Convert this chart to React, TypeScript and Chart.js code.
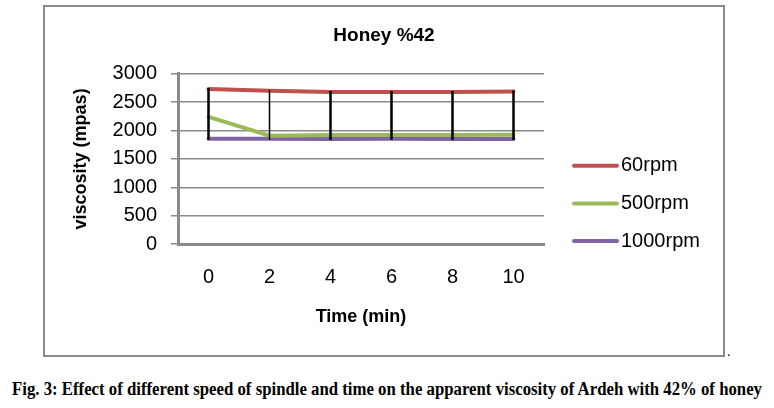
import React, { useEffect, useLayoutEffect, useRef } from "react";
import { Chart, registerables } from "chart.js";

Chart.register(...registerables);

// ---- data ----
const times = ["0", "2", "4", "6", "8", "10"];
const rpm60 = [2730, 2700, 2680, 2680, 2680, 2690];
const rpm500 = [2240, 1910, 1920, 1920, 1920, 1925];
const rpm1000 = [1855, 1855, 1850, 1855, 1850, 1850];
const seriesLabels = ["60rpm", "500rpm", "1000rpm"];
const seriesColors = ["#C0504D", "#9BBB59", "#8064A2"];
const yMin = 0;
const yMax = 3000;
const yStep = 500;
const chartTitle = "Honey %42";
const yTitle = "viscosity (mpas)";
const xTitle = "Time (min)";
const caption =
  "Fig. 3: Effect of different speed of spindle and time on the apparent viscosity of Ardeh with 42% of honey";

const SANS = "'Liberation Sans', Arial, sans-serif";

const highLowPlugin = {
  id: "highLow",
  afterDatasetsDraw(chart: any) {
    const { ctx } = chart;
    const xs = chart.scales.x;
    const ys = chart.scales.y;
    const sets = chart.data.datasets;
    const n = chart.data.labels.length;
    ctx.save();
    ctx.strokeStyle = "#000";
    for (let i = 0; i < n; i++) {
      const vals = sets.map((d: any) => d.data[i] as number);
      const hi = Math.max(...vals);
      const lo = Math.min(...vals);
      const x = xs.getPixelForValue(i);
      ctx.lineWidth = i === 1 ? 1.5 : 2.5;
      ctx.beginPath();
      ctx.moveTo(x, ys.getPixelForValue(hi) - 1);
      ctx.lineTo(x, ys.getPixelForValue(lo) + 1);
      ctx.stroke();
    }
    ctx.restore();
  },
};

const sideLegendPlugin = {
  id: "sideLegend",
  afterDraw(chart: any) {
    const { ctx, chartArea } = chart;
    const x0 = chartArea.right + 30;
    ctx.save();
    chart.data.datasets.forEach((ds: any, i: number) => {
      const y = chartArea.top + 92 + i * 37.6;
      ctx.strokeStyle = ds.borderColor;
      ctx.lineWidth = 4;
      ctx.lineCap = "round";
      ctx.beginPath();
      ctx.moveTo(x0, y);
      ctx.lineTo(x0 + 43, y);
      ctx.stroke();
      ctx.fillStyle = "#000";
      ctx.font = `20px ${SANS}`;
      ctx.textBaseline = "middle";
      ctx.textAlign = "left";
      ctx.fillText(ds.label, x0 + 47, y);
    });
    ctx.restore();
  },
};

function ChartCanvas() {
  const ref = useRef<HTMLCanvasElement | null>(null);
  useEffect(() => {
    if (!ref.current) return;
    const seriesData = [rpm60, rpm500, rpm1000];
    const chart = new Chart(ref.current, {
      type: "line",
      data: {
        labels: times,
        datasets: seriesData.map((d, i) => ({
          label: seriesLabels[i],
          data: d,
          borderColor: seriesColors[i],
          backgroundColor: seriesColors[i],
          borderWidth: 4,
          pointRadius: 0,
          tension: 0,
          borderCapStyle: "round" as const,
          yAxisID: "y",
        })),
      },
      options: {
        responsive: false,
        animation: false,
        layout: { padding: 0 },
        font: { family: SANS },
        plugins: {
          legend: { display: false },
          tooltip: { enabled: false },
          title: {
            display: true,
            text: chartTitle,
            color: "#000",
            font: { family: SANS, size: 19, weight: "bold" },
            padding: { top: 17, bottom: 27 },
          },
        },
        scales: {
          x: {
            type: "category",
            offset: true,
            grid: { display: false, drawTicks: false },
            border: { display: true, color: "#8a8a8a", width: 3 },
            ticks: {
              color: "#000",
              font: { family: SANS, size: 20 },
              padding: 21,
              maxRotation: 0,
            },
            title: {
              display: true,
              text: xTitle,
              color: "#000",
              font: { family: SANS, size: 18, weight: "bold" },
              padding: { top: 0, bottom: 27 },
            },
            afterFit: (s: any) => {
              s.height = 111;
            },
          },
          y: {
            position: "left",
            min: yMin,
            max: yMax,
            grid: {
              color: "#8a8a8a",
              lineWidth: 1.5,
              drawTicks: true,
              tickLength: 7,
            },
            border: { display: true, color: "#8a8a8a", width: 3 },
            ticks: {
              stepSize: yStep,
              color: "#000",
              font: { family: SANS, size: 20 },
              padding: 14,
              callback: (v: any) => String(v),
            },
            title: {
              display: true,
              text: yTitle,
              color: "#000",
              font: { family: SANS, size: 18, weight: "bold" },
              padding: { top: 25, bottom: 0 },
            },
            afterFit: (s: any) => {
              s.width = 133;
            },
          },
          legendSpace: {
            type: "linear",
            position: "right",
            display: true,
            grid: { display: false, drawTicks: false },
            border: { display: false },
            ticks: { display: false },
            afterFit: (s: any) => {
              s.width = 179;
            },
          },
        },
      },
      plugins: [highLowPlugin, sideLegendPlugin],
    } as any);
    return () => chart.destroy();
  }, []);
  return (
    <canvas
      ref={ref}
      width={678}
      height={348}
      style={{ position: "absolute", left: 45, top: 7, width: 678, height: 348 }}
    />
  );
}

export default function App() {
  const capRef = useRef<HTMLSpanElement | null>(null);
  useLayoutEffect(() => {
    const el = capRef.current;
    if (!el) return;
    const w = el.getBoundingClientRect().width;
    if (w > 0) el.style.transform = `scaleX(${750 / w})`;
  }, []);
  return (
    <div
      style={{
        position: "absolute",
        left: 0,
        top: 0,
        width: 774,
        height: 408,
        background: "#fff",
        overflow: "hidden",
      }}
    >
      <div
        style={{
          position: "absolute",
          left: 43,
          top: 5,
          width: 682,
          height: 352,
          border: "2px solid #8a8a8a",
          boxSizing: "border-box",
        }}
      />
      <ChartCanvas />
      <span
        style={{
          position: "absolute",
          left: 727,
          top: 344,
          fontFamily: "'Liberation Serif', serif",
          fontSize: 14,
          lineHeight: "16px",
          color: "#000",
        }}
      >
        .
      </span>
      <span
        ref={capRef}
        style={{
          position: "absolute",
          left: 12,
          top: 379,
          display: "inline-block",
          whiteSpace: "nowrap",
          transformOrigin: "0 0",
          fontFamily: "'Liberation Serif', 'Times New Roman', serif",
          fontWeight: "bold",
          fontSize: 18,
          lineHeight: "20px",
          color: "#000",
        }}
      >
        {caption}
      </span>
    </div>
  );
}
